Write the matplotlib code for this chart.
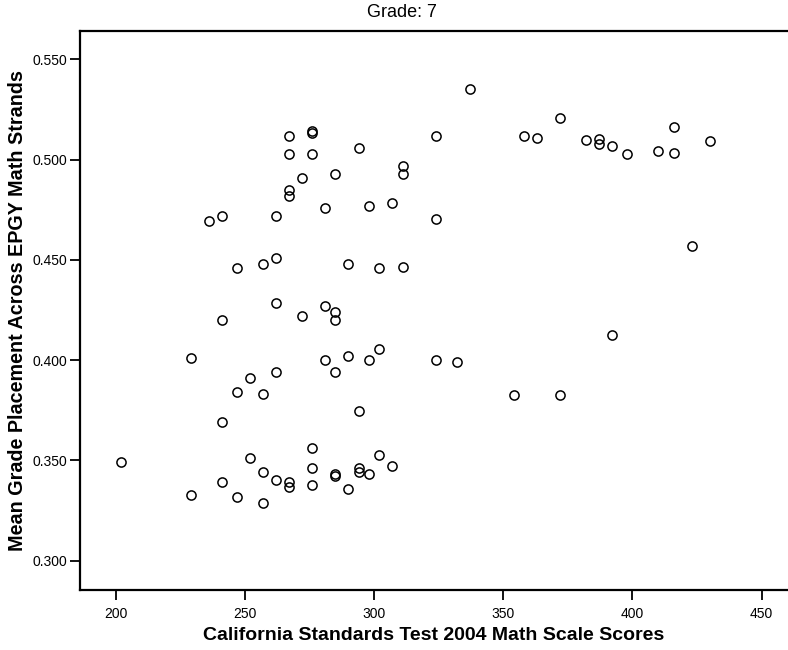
import matplotlib
matplotlib.use("Agg")
import matplotlib.pyplot as plt

plt.rcParams['font.family'] = ['Liberation Sans', 'DejaVu Sans']

# CST 2004 math scale score vs. mean EPGY grade placement, grade 7 students
cst_scores = [
    202,
    229, 229,
    236,
    241, 241, 241, 241,
    247, 247, 247,
    252, 252,
    257, 257, 257, 257,
    262, 262, 262, 262, 262,
    267, 267, 267, 267, 267, 267,
    272, 272,
    276, 276, 276, 276, 276, 276,
    281, 281, 281,
    285, 285, 285, 285, 285, 285,
    290, 290, 290,
    294, 294, 294, 294,
    298, 298, 298,
    302, 302, 302,
    307, 307,
    311, 311, 311,
    324, 324, 324,
    332,
    337,
    354,
    358, 363,
    372, 372,
    382, 387, 387,
    392, 392,
    398, 410, 416, 416, 423, 430,
]
grade_placement = [
    0.349,
    0.401, 0.333,
    0.4695,
    0.472, 0.420, 0.369, 0.339,
    0.446, 0.384, 0.332,
    0.391, 0.351,
    0.448, 0.383, 0.344, 0.329,
    0.472, 0.451, 0.4285, 0.394, 0.340,
    0.512, 0.503, 0.485, 0.482, 0.339, 0.337,
    0.491, 0.422,
    0.514, 0.513, 0.503, 0.356, 0.346, 0.338,
    0.476, 0.427, 0.400,
    0.493, 0.424, 0.420, 0.394, 0.343, 0.342,
    0.448, 0.402, 0.336,
    0.506, 0.3745, 0.346, 0.344,
    0.477, 0.400, 0.343,
    0.446, 0.4055, 0.3525,
    0.4785, 0.347,
    0.497, 0.493, 0.4466,
    0.512, 0.4705, 0.400,
    0.399,
    0.535,
    0.3825,
    0.5116, 0.5107,
    0.5205, 0.3825,
    0.510, 0.5105, 0.508,
    0.507, 0.4124,
    0.5026, 0.5044, 0.516, 0.5035, 0.457, 0.5093,
]
x_ticks = [200, 250, 300, 350, 400, 450]
y_ticks = [0.300, 0.350, 0.400, 0.450, 0.500, 0.550]

fig = plt.figure(figsize=(7.88, 6.5), dpi=100)
ax = fig.add_axes([0.1015, 0.0923, 0.8985, 0.86])

ax.plot(cst_scores, grade_placement, linestyle='none', marker='o',
        markersize=6.6, markerfacecolor='none', markeredgecolor='black',
        markeredgewidth=1.1)

ax.set_xlim(186.1, 460.2)
ax.set_ylim(0.2854, 0.5641)
ax.set_xticks(x_ticks)
ax.set_yticks(y_ticks)
ax.set_yticklabels([f"{v:.3f}" for v in y_ticks])

ax.spines['right'].set_visible(False)
for side in ('left', 'top', 'bottom'):
    ax.spines[side].set_linewidth(1.6)
ax.tick_params(axis='both', length=7.5, width=1.3, labelsize=10, color='black')
ax.tick_params(axis='x', pad=4.5)
ax.tick_params(axis='y', pad=1.5)

ax.set_xlabel("California Standards Test 2004 Math Scale Scores",
              fontsize=14, fontweight='bold')
ax.set_ylabel("Mean Grade Placement Across EPGY Math Strands",
              fontsize=14.2, fontweight='bold')
ax.xaxis.set_label_coords(0.5, -0.066)
ax.yaxis.set_label_coords(-0.075, 0.5)

fig.text(0.510, 0.9815, "Grade: 7", ha='center', va='center', fontsize=13)

fig.savefig("out.png", dpi=100)
